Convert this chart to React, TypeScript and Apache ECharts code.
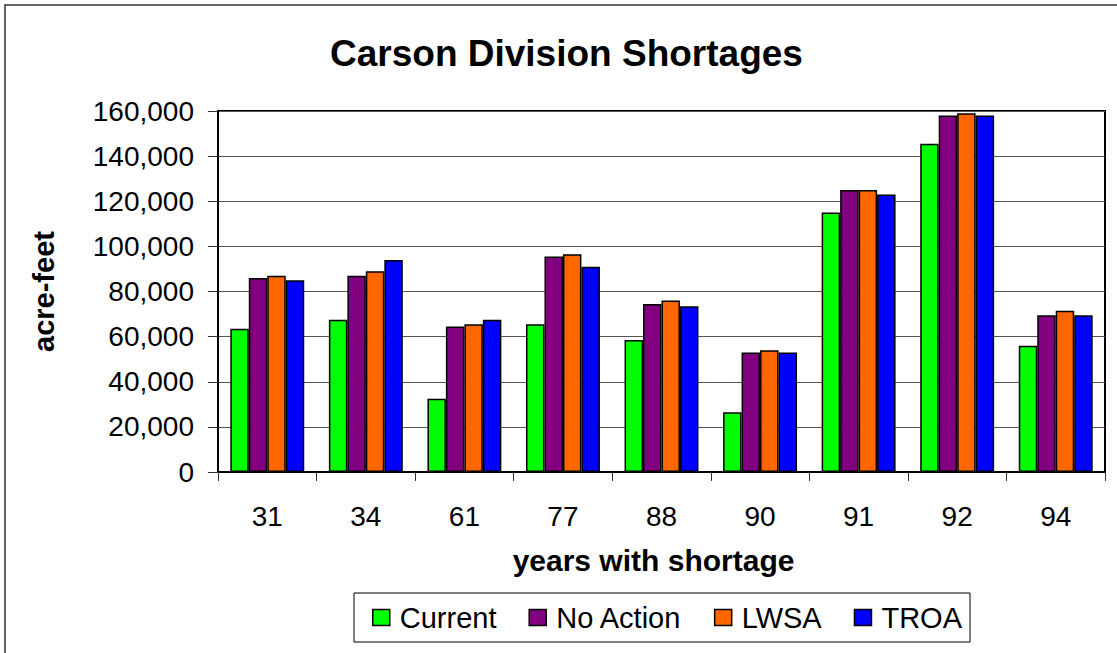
import React, { useEffect, useRef } from "react";
import * as echarts from "echarts";

const categories = ["31", "34", "61", "77", "88", "90", "91", "92", "94"];
const seriesNames = ["Current", "No Action", "LWSA", "TROA"];
const current = [63500, 67500, 32500, 65500, 58500, 26500, 115000, 145500, 56000];
const noAction = [86000, 87000, 64500, 95500, 74500, 53000, 125000, 158000, 69500];
const lwsa = [87000, 89000, 65500, 96500, 76000, 54000, 125000, 159000, 71500];
const troa = [85000, 94000, 67500, 91000, 73500, 53000, 123000, 158000, 69500];
const seriesColors = ["#00FF00", "#800080", "#FF6600", "#0000FF"];

const FONT = "'Liberation Sans', Arial, sans-serif";

export default function App() {
  const ref = useRef<HTMLDivElement>(null);
  useEffect(() => {
    if (!ref.current) return;
    const chart = echarts.init(ref.current, null, { renderer: "svg" });
    const values = [current, noAction, lwsa, troa];
    chart.setOption({
      animation: false,
      backgroundColor: "#ffffff",
      textStyle: { fontFamily: FONT },
      graphic: [
        {
          type: "rect",
          shape: { x: 5, y: 5, width: 1200, height: 700 },
          style: { fill: "none", stroke: "#333", lineWidth: 1.5 },
          silent: true,
        },
      ],
      title: {
        text: "Carson Division Shortages",
        left: 330,
        top: 35,
        padding: 0,
        textStyle: { fontFamily: FONT, fontSize: 37, fontWeight: "bold", color: "#000" },
      },
      legend: {
        left: 354,
        top: 593,
        padding: [10, 8, 10, 18],
        itemWidth: 17,
        itemHeight: 16,
        itemGap: 32,
        borderColor: "#000",
        borderWidth: 1,
        icon: "rect",
        itemStyle: { borderColor: "#000", borderWidth: 1.5 },
        textStyle: { fontFamily: FONT, fontSize: 29, color: "#000", padding: [0, 0, 0, 5] },
        data: seriesNames,
      },
      grid: {
        left: 218,
        top: 111,
        right: 12,
        bottom: 181,
        show: true,
        borderColor: "#000",
        borderWidth: 2,
        containLabel: false,
      },
      xAxis: {
        type: "category",
        data: categories,
        name: "years with shortage",
        nameLocation: "middle",
        nameGap: 73,
        nameTextStyle: {
          fontFamily: FONT,
          fontSize: 30,
          fontWeight: "bold",
          color: "#000",
          padding: [0, 16, 0, 0],
        },
        axisLine: { show: true, lineStyle: { color: "#000", width: 2 } },
        axisTick: { show: true, length: 9, inside: false, lineStyle: { color: "#333", width: 1 } },
        axisLabel: { fontFamily: FONT, fontSize: 28, color: "#000", margin: 30 },
      },
      yAxis: {
        type: "value",
        min: 0,
        max: 160000,
        interval: 20000,
        name: "acre-feet",
        nameLocation: "middle",
        nameRotate: 90,
        nameGap: 160,
        nameTextStyle: { fontFamily: FONT, fontSize: 29, fontWeight: "bold", color: "#000" },
        axisLine: { show: true, lineStyle: { color: "#000", width: 2 } },
        axisTick: { show: true, length: 10, inside: false, lineStyle: { color: "#333", width: 1 } },
        axisLabel: {
          fontFamily: FONT,
          fontSize: 28,
          color: "#000",
          margin: 24,
          formatter: (v: number) => v.toLocaleString("en-US"),
        },
        splitLine: { show: true, lineStyle: { color: "#555", width: 1 } },
      },
      series: seriesNames.map((name, i) => ({
        name,
        type: "bar",
        data: values[i],
        barGap: "0%",
        barCategoryGap: "25%",
        itemStyle: { color: seriesColors[i], borderColor: "#000", borderWidth: 1.5 },
      })),
    });
    return () => chart.dispose();
  }, []);
  return (
    <div
      ref={ref}
      style={{ position: "fixed", left: 0, top: 0, width: 1117, height: 653 }}
    />
  );
}
